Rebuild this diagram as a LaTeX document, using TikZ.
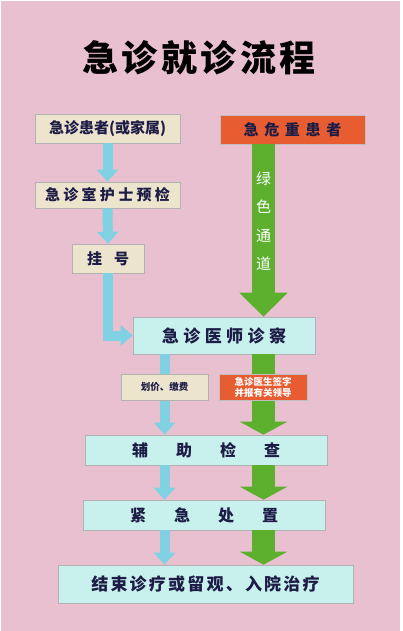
\documentclass[tikz,border=0pt]{standalone}
\usepackage{fontspec}
\usepackage{xcolor}
\usepackage{tikz}
\usetikzlibrary{positioning,arrows.meta,calc}
\newfontfamily\cjk{Noto Sans CJK SC}

\definecolor{bgpink}{RGB}{233,192,208}
\definecolor{boxbeige}{RGB}{237,228,206}
\definecolor{boxcyan}{RGB}{200,240,236}
\definecolor{boxred}{RGB}{232,92,50}
\definecolor{arrowcyan}{RGB}{128,210,226}
\definecolor{arrowgreen}{RGB}{92,176,46}
\definecolor{textnavy}{RGB}{28,28,70}

\begin{document}
\begin{tikzpicture}[
  x=1pt, y=-1pt,
  every node/.style={font=\cjk\bfseries, text=textnavy},
  step1/.style={rectangle, draw=black!30, line width=0.6pt, fill=boxbeige, inner sep=0pt},
  urgent/.style={rectangle, draw=black!25, line width=0.6pt, fill=boxred, inner sep=0pt},
  stage/.style={rectangle, draw=black!30, line width=0.6pt, fill=boxcyan, inner sep=0pt},
  cyanarrow/.style={draw=arrowcyan, line width=10pt, -{Triangle[width=21pt,length=12pt]}},
  greenarrow/.style={draw=arrowgreen, line width=23pt, -{Triangle[width=47pt,length=13pt]}}
]
% Fondo
\useasboundingbox (0,0) rectangle (403,631);
\fill[white] (0,0) rectangle (403,631);
\fill[bgpink] (1,1) rectangle (400,631);

% Titulo
\node[text=black, font=\cjk\bfseries\fontsize{36}{40}\selectfont\addfontfeature{LetterSpace=10}] (title) at (199,58) {急诊就诊流程};

% Columnas
\coordinate (cx) at (164.5,0);
\coordinate (gx) at (263.5,0);

% Cajas
\node[step1, minimum width=145pt, minimum height=29pt, font=\cjk\bfseries\fontsize{15}{17}\selectfont] (pat) at (107.5,128.5) {急诊患者(或家属)};
\node[urgent, minimum width=145pt, minimum height=29pt, font=\cjk\bfseries\fontsize{15}{17}\selectfont\addfontfeature{LetterSpace=38}] (crit) at (292.5,129.5) {急危重患者};
\node[step1, minimum width=145pt, minimum height=26pt, font=\cjk\bfseries\fontsize{15}{17}\selectfont\addfontfeature{LetterSpace=22}] (triage) at (107.5,195) {急诊室护士预检};
\node[step1, minimum width=72pt, minimum height=29pt, font=\cjk\bfseries\fontsize{15}{17}\selectfont] (reg) at (108,258.5) {挂\hspace{12pt}号};
\node[stage, minimum width=182pt, minimum height=37pt, font=\cjk\bfseries\fontsize{17}{19}\selectfont\addfontfeature{LetterSpace=26}] (exam) at (224,335.5) {急诊医师诊察};
\node[stage, minimum width=242pt, minimum height=30pt, font=\cjk\bfseries\fontsize{16}{18}\selectfont] (aux) at (206,450) {辅\hspace{28pt}助\hspace{28pt}检\hspace{28pt}查};
\node[stage, minimum width=242pt, minimum height=30pt, font=\cjk\bfseries\fontsize{16}{18}\selectfont] (treat) at (204,515) {紧\hspace{28pt}急\hspace{28pt}处\hspace{28pt}置};
\node[stage, minimum width=295pt, minimum height=38pt, font=\cjk\bfseries\fontsize{17}{19}\selectfont\addfontfeature{LetterSpace=13}] (out) at (205.5,584) {结束诊疗或留观、入院治疗};

% Flechas azules
\draw[cyanarrow] (pat.south) -- (triage.north);
\draw[cyanarrow] (triage.south) -- (reg.north);
\draw[cyanarrow, -{Triangle[width=20pt,length=12pt]}] (reg.south) |- (exam.west);
\draw[cyanarrow] (cx |- exam.south) -- (cx |- aux.north);
\draw[cyanarrow] (cx |- aux.south) -- (cx |- treat.north);
\draw[cyanarrow] (cx |- treat.south) -- (cx |- out.north);

% Flechas verdes
\draw[greenarrow, -{Triangle[width=47pt,length=24pt]}] (gx |- crit.south) -- (gx |- exam.north);
\draw[greenarrow] (gx |- exam.south) -- (gx |- aux.north);
\draw[greenarrow] (gx |- aux.south) -- (gx |- treat.north);
\draw[greenarrow] (gx |- treat.south) -- (gx |- out.north);

% Canal verde
\node[text=white, align=center, font=\cjk\fontsize{15}{28.5}\selectfont] (lane) at (263.5,221) {绿\\色\\通\\道};

% Notas
\node[step1, minimum width=87pt, minimum height=26pt, font=\cjk\bfseries\fontsize{9.5}{11}\selectfont] (pay) at (164.5,387) {划价、缴费};
\node[urgent, minimum width=88pt, minimum height=26pt, align=center, text=white, font=\cjk\bfseries\fontsize{9.5}{11}\selectfont] (sign) at (263,387) {急诊医生签字\\并报有关领导};
\end{tikzpicture}
\end{document}
